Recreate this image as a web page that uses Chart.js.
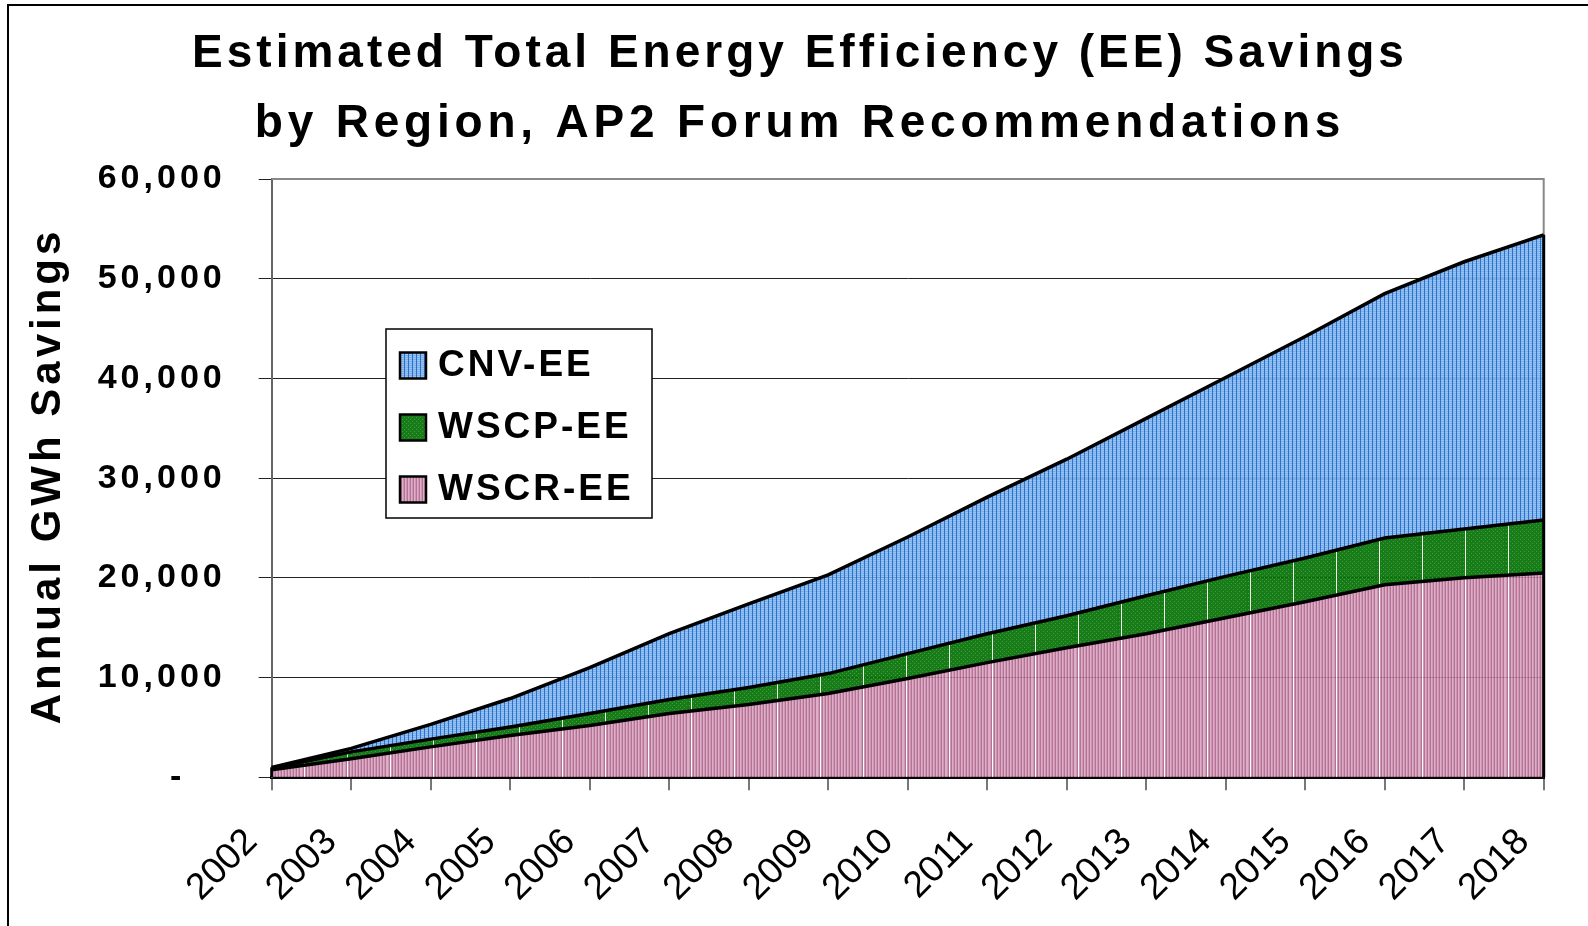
<!DOCTYPE html>
<html>
<head>
<meta charset="utf-8">
<script src="https://cdn.jsdelivr.net/npm/chart.js@4.4.1/dist/chart.umd.min.js"></script>
<style>
  html, body { margin: 0; padding: 0; background: #fff; }
  canvas { display: block; }
</style>
</head>
<body>
<canvas id="eeChart" width="1588" height="926"></canvas>
<script>
// values (GWh)
const years = ['2002', '2003', '2004', '2005', '2006', '2007', '2008', '2009', '2010',
               '2011', '2012', '2013', '2014', '2015', '2016', '2017', '2018'];
const wscrValues = [750, 1850, 3050, 4200, 5200, 6400, 7300, 8400, 9900,
                    11500, 13000, 14400, 16000, 17600, 19300, 20000, 20500];
const wscpValues = [150, 700, 780, 850, 1200, 1400, 1700, 2000, 2500,
                    2900, 3200, 3800, 4150, 4400, 4700, 4900, 5300];
const cnvValues = [100, 350, 1470, 2850, 4600, 6600, 8400, 9900, 11700,
                   13700, 15700, 17800, 19950, 22200, 24500, 26800, 28600];
const yTickLabels = ['-   ', '10,000', '20,000', '30,000', '40,000', '50,000', '60,000'];
const titleLines = ['Estimated Total Energy Efficiency (EE) Savings',
                    'by Region, AP2 Forum Recommendations'];
const yTitle = 'Annual GWh Savings';

const FONT = '"Liberation Sans", Arial, sans-serif';
const canvas = document.getElementById('eeChart');
const ctx = canvas.getContext('2d');

function makePattern(w, h, alpha, paint) {
    const c = document.createElement('canvas');
    c.width = w; c.height = h;
    const p = c.getContext('2d');
    p.globalAlpha = alpha;
    paint(p, w, h);
    return ctx.createPattern(c, 'repeat');
}

// pink vertical stripes, with the white seams every 43px
const wscrPattern = makePattern(43, 4, 0.88, (p, w, h) => {
    const stripes = ['#d9a2bf', '#c688a8', '#aa5e86'];
    for (let x = 0; x < w; x++) {
        p.fillStyle = x === 3 ? '#ffffff' : stripes[x % 3];
        p.fillRect(x, 0, 1, h);
    }
});

// dark green with light speckles
const wscpPattern = makePattern(43, 4, 0.92, (p, w, h) => {
    p.fillStyle = '#037003';
    p.fillRect(0, 0, w, h);
    p.fillStyle = '#43a043';
    for (let x = 0; x < w; x++) {
        for (let y = 0; y < h; y++) {
            if ((x % 4 === 1 && y === 1) || (x % 4 === 3 && y === 3)) p.fillRect(x, y, 1, 1);
        }
    }
    p.fillStyle = '#ffffff';
    p.fillRect(3, 0, 1, h);
});

// light blue small grid
const cnvPattern = makePattern(4, 4, 0.9, (p, w, h) => {
    for (let y = 0; y < h; y++) {
        p.fillStyle = y % 2 === 0 ? '#90bdf0' : '#6ba5e7';
        p.fillRect(0, y, w, 1);
    }
    p.fillStyle = '#1f69cb';
    p.fillRect(0, 0, 1, h);
});

const legendItems = [
    { label: 'CNV-EE', fill: cnvPattern },
    { label: 'WSCP-EE', fill: wscpPattern },
    { label: 'WSCR-EE', fill: wscrPattern }
];

// let the y tick labels use the wide letter spacing of the original
const spacedTicks = {
    id: 'spacedTicks',
    afterUpdate(chart) {
        const s = chart.scales.y;
        if (s && !s._spaced) {
            const orig = s.drawLabels.bind(s);
            s.drawLabels = function (area) {
                chart.ctx.save();
                chart.ctx.letterSpacing = '4px';
                orig(area);
                chart.ctx.restore();
            };
            s._spaced = true;
        }
    }
};

// gray plot frame + the black outline at both ends of the stack
const plotFrame = {
    id: 'plotFrame',
    beforeDatasetsDraw(chart) {
        const { ctx, chartArea: a } = chart;
        ctx.save();
        ctx.strokeStyle = '#888';
        ctx.lineWidth = 2;
        ctx.beginPath();
        ctx.moveTo(a.left, a.top);
        ctx.lineTo(a.right, a.top);
        ctx.lineTo(a.right, a.bottom);
        ctx.stroke();
        ctx.restore();
    },
    afterDatasetsDraw(chart) {
        const { ctx, scales: { x, y } } = chart;
        ctx.save();
        ctx.strokeStyle = '#000';
        ctx.lineWidth = 3;
        [0, years.length - 1].forEach(i => {
            const top = wscrValues[i] + wscpValues[i] + cnvValues[i];
            const px = x.getPixelForValue(i);
            ctx.beginPath();
            ctx.moveTo(px, y.getPixelForValue(0));
            ctx.lineTo(px, y.getPixelForValue(top));
            ctx.stroke();
        });
        ctx.restore();
    }
};

// title, axis title, legend box and outer frame
const decor = {
    id: 'decor',
    afterDraw(chart) {
        const ctx = chart.ctx;
        ctx.save();
        // outer frame (only left and top edges are in view)
        ctx.strokeStyle = '#000';
        ctx.lineWidth = 2;
        ctx.beginPath();
        ctx.moveTo(8, 930);
        ctx.lineTo(8, 5);
        ctx.lineTo(1590, 5);
        ctx.stroke();

        ctx.fillStyle = '#000';
        ctx.textAlign = 'center';
        ctx.textBaseline = 'alphabetic';
        ctx.font = 'bold 46px ' + FONT;
        ctx.letterSpacing = '4px';
        ctx.fillText(titleLines[0], 800, 67);
        ctx.letterSpacing = '4.8px';
        ctx.fillText(titleLines[1], 800, 137);

        ctx.save();
        ctx.translate(60, 476);
        ctx.rotate(-Math.PI / 2);
        ctx.font = 'bold 42px ' + FONT;
        ctx.letterSpacing = '4px';
        ctx.fillText(yTitle, 0, 0);
        ctx.restore();

        // legend
        ctx.fillStyle = '#fff';
        ctx.fillRect(386, 329, 266, 189);
        ctx.strokeStyle = '#000';
        ctx.lineWidth = 1.5;
        ctx.strokeRect(386, 329, 266, 189);
        ctx.font = 'bold 37px ' + FONT;
        ctx.letterSpacing = '3px';
        ctx.textAlign = 'left';
        legendItems.forEach((item, i) => {
            const cy = 365.5 + i * 62;
            ctx.fillStyle = '#fff';
            ctx.fillRect(400, cy - 13, 26, 26);
            ctx.fillStyle = item.fill;
            ctx.fillRect(400, cy - 13, 26, 26);
            ctx.lineWidth = 2.5;
            ctx.strokeRect(400, cy - 13, 26, 26);
            ctx.fillStyle = '#000';
            ctx.fillText(item.label, 438, cy + 10);
        });
        ctx.restore();
    }
};

new Chart(canvas, {
    type: 'line',
    data: {
        labels: years,
        datasets: [
            { label: 'WSCR-EE', data: wscrValues, fill: 'origin', backgroundColor: wscrPattern },
            { label: 'WSCP-EE', data: wscpValues, fill: '-1', backgroundColor: wscpPattern },
            { label: 'CNV-EE', data: cnvValues, fill: '-1', backgroundColor: cnvPattern }
        ].map(d => Object.assign(d, {
            borderColor: '#000', borderWidth: 3.5, pointRadius: 0, tension: 0
        }))
    },
    options: {
        responsive: false,
        animation: false,
        layout: { padding: { top: 179, right: 44.3, left: 0, bottom: 0 } },
        plugins: {
            legend: { display: false },
            title: { display: false },
            tooltip: { enabled: false }
        },
        scales: {
            x: {
                offset: false,
                grid: { drawOnChartArea: false, tickLength: 13, color: '#777', lineWidth: 2 },
                border: { color: '#000', width: 3 },
                ticks: {
                    autoSkip: false, minRotation: 45, maxRotation: 45,
                    padding: 30, labelOffset: -20,
                    color: '#000', font: { family: FONT, size: 37 }
                },
                afterFit: s => {
                    s.height = 926 - 777.3;
                    s.paddingLeft = 0;
                    s.paddingRight = 0;
                }
            },
            y: {
                stacked: true,
                min: 0, max: 60000,
                ticks: {
                    stepSize: 10000, padding: 33, color: '#000',
                    font: { family: FONT, size: 34, weight: 'bold' },
                    callback: v => yTickLabels[Math.round(v / 10000)]
                },
                grid: { color: '#222', lineWidth: 1, tickLength: 13 },
                border: { color: '#666', width: 2 },
                afterFit: s => {
                    s.width = 271.7;
                    s.paddingTop = 0;
                    s.paddingBottom = 0;
                }
            }
        }
    },
    plugins: [spacedTicks, plotFrame, decor]
});
</script>
</body>
</html>
